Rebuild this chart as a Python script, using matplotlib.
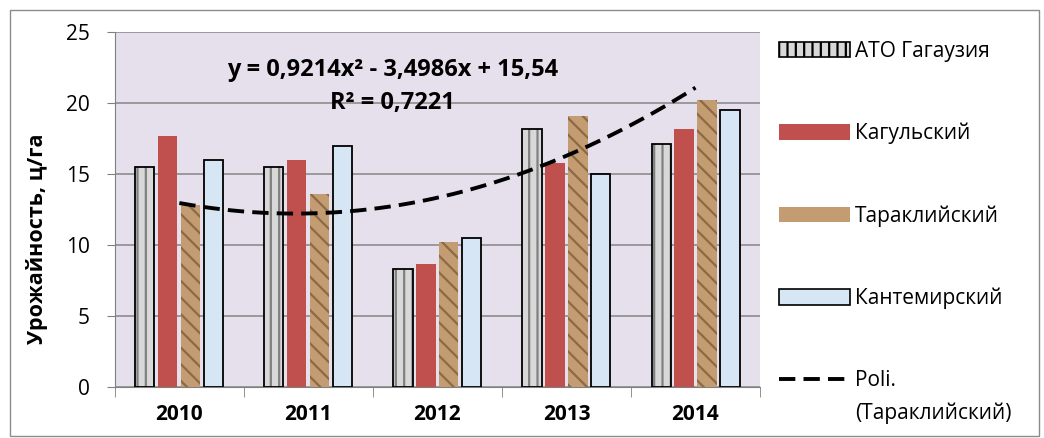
import numpy as np
import matplotlib
matplotlib.use('Agg')
import matplotlib.pyplot as plt
from matplotlib.patches import Patch, Rectangle
from matplotlib.lines import Line2D

plt.rcParams['font.family'] = ['Open Sans', 'DejaVu Sans']
plt.rcParams['hatch.linewidth'] = 1.6

years = ['2010', '2011', '2012', '2013', '2014']
ato = [15.5, 15.5, 8.3, 18.2, 17.1]
kagul = [17.7, 16.0, 8.7, 15.8, 18.2]
tarakl = [12.8, 13.6, 10.2, 19.1, 20.2]
kantemir = [16.0, 17.0, 10.5, 15.0, 19.5]
# polynomial trendline for Тараклийский, as printed on the chart
coef = [0.9214, -3.4986, 15.54]
r2 = 0.7221

fig = plt.figure(figsize=(10.44, 4.38), dpi=100)
ax = fig.add_axes([0.110, 0.116, 0.618, 0.811])
ax.set_facecolor('#E6E0EC')

x = np.arange(len(years))
step = 0.178
w = 0.148

ax.bar(x - 1.5 * step, ato, w, color='#D8D8D8', edgecolor='#808080', hatch='||', linewidth=0, zorder=3)
ax.bar(x - 1.5 * step, ato, w, fill=False, edgecolor='black', linewidth=1.3, zorder=4)
ax.bar(x - 0.5 * step, kagul, w, color='#C0504D', linewidth=0, zorder=3)
ax.bar(x + 0.5 * step, tarakl, w, color='#C49C72', edgecolor='#8C6A45', hatch='\\\\', linewidth=0, zorder=3)
ax.bar(x + 1.5 * step, kantemir, w, color='#D7E6F4', edgecolor='black', linewidth=1.3, zorder=3)

xt = np.linspace(0, 4, 50)
ax.plot(xt, np.polyval(coef, xt + 1), color='black', linestyle=(0, (4.2, 2.1)), linewidth=2.8, zorder=5)

ax.set_xlim(-0.5, 4.5)
ax.set_ylim(0, 25)
ax.set_yticks(range(0, 26, 5))
ax.set_xticks(x)
ax.set_xticklabels(years, fontweight='bold', fontsize=15)
ax.set_xticks(np.arange(-0.5, 5, 1), minor=True)
ax.tick_params(axis='x', which='major', length=0, pad=12)
ax.tick_params(axis='x', which='minor', length=7, color='#808080', direction='out')
ax.tick_params(axis='y', length=6, color='#808080', labelsize=15, pad=12)
ax.grid(axis='y', color='#8C8C8C', linewidth=1.2, zorder=1)
for s in ['top', 'right']:
    ax.spines[s].set_visible(False)
ax.spines['left'].set_color('#808080')
ax.spines['bottom'].set_color('#808080')
ax.set_ylabel('Урожайность, ц/га', fontweight='bold', fontsize=15.5)
ax.yaxis.set_label_coords(-0.104, 0.417)

ax.text(1.65, 22.3, 'y = 0,9214x² - 3,4986x + 15,54', fontweight='bold', fontsize=17,
        ha='center', va='center', zorder=6)
ax.text(1.65, 20.0, 'R² = ' + str(r2).replace('.', ','), fontweight='bold', fontsize=17,
        ha='center', va='center', zorder=6)

handles = [
    Patch(facecolor='#D8D8D8', edgecolor='black', hatch='||', linewidth=1.2),
    Patch(facecolor='#C0504D', edgecolor='none'),
    Patch(facecolor='#C49C72', edgecolor='none'),
    Patch(facecolor='#D7E6F4', edgecolor='black', linewidth=1.2),
    Line2D([0], [0], color='black', linestyle=(0, (4.2, 2.1)), linewidth=2.8),
]
labels = ['АТО Гагаузия', 'Кагульский', 'Тараклийский', 'Кантемирский', 'Poli.']
leg = fig.legend(handles, labels, loc='upper left', bbox_to_anchor=(0.728, 0.95), frameon=False,
                 fontsize=15, handlelength=3.4, handleheight=0.75, handletextpad=0.25,
                 labelspacing=2.93)

# second line of the trendline label, placed under "Poli."
fig.canvas.draw()
bb = leg.get_texts()[-1].get_window_extent().transformed(fig.transFigure.inverted())
fig.text(bb.x0, bb.y0 - 0.025, '(Тараклийский)', fontsize=15, ha='left', va='top')

fig.add_artist(Rectangle((0.01, 0.005), 0.985, 0.972, transform=fig.transFigure,
                         fill=False, edgecolor='#8C8C8C', linewidth=1))

fig.savefig('out.png', dpi=100)
